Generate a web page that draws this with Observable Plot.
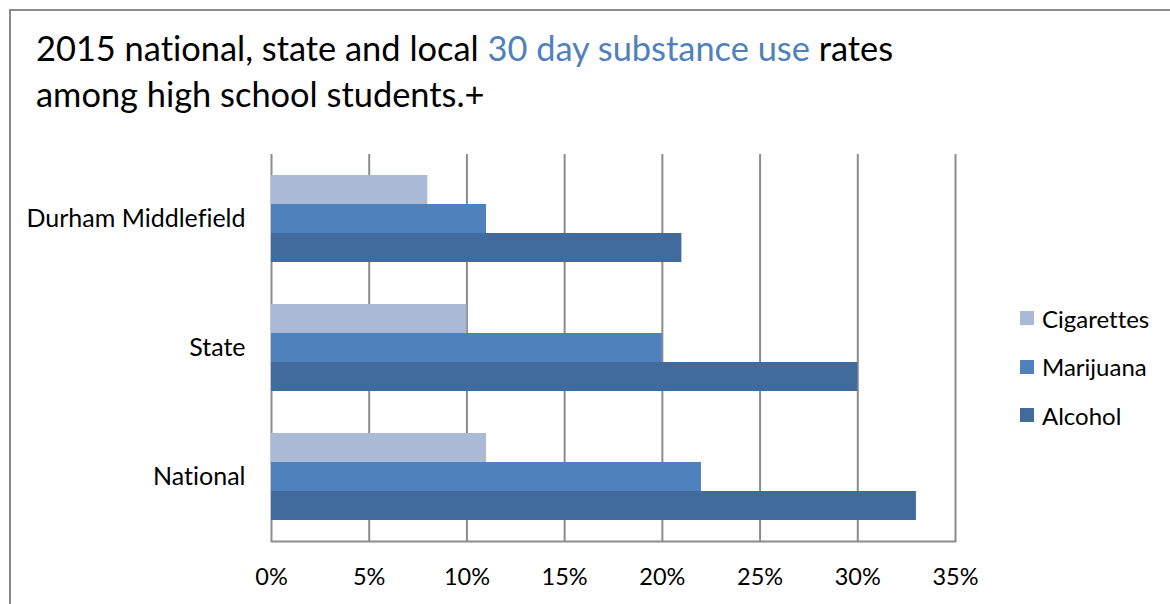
<!DOCTYPE html>
<html>
<head>
<meta charset="utf-8">
<script src="https://cdn.jsdelivr.net/npm/d3@7"></script>
<script src="https://cdn.jsdelivr.net/npm/@observablehq/plot@0.6"></script>
<style>
  html, body { margin: 0; padding: 0; background: #fff; }
  #wrap { position: relative; width: 1170px; height: 604px; overflow: hidden; font-family: Lato, "Liberation Sans", sans-serif; font-variant-ligatures: none; }
  #box { position: absolute; left: 9px; top: 9px; width: 1300px; height: 800px; border-top: 2px solid #8a8a8a; border-left: 2px solid #8a8a8a; }
  #title { position: absolute; left: 36px; top: 25px; font-size: 34.4px; line-height: 46px; color: #000; white-space: nowrap; }
  #title .hl { color: #4f81bd; }
  #chart { position: absolute; left: 0; top: 130px; }
  #chart svg text { font-variant-ligatures: none; }
  #legend { position: absolute; left: 1020px; top: 294px; font-size: 24px; color: #000; }
  #legend .item { display: flex; align-items: center; height: 48.5px; }
  #legend .sw { width: 14px; height: 14px; margin-right: 8px; }
</style>
</head>
<body>
<div id="wrap">
  <div id="box"></div>
  <div id="title">2015 national, state and local <span class="hl">30 day substance use</span> rates<br>among high school students.+</div>
  <div id="chart"></div>
  <div id="legend"></div>
</div>
<script>
// Locations (one group of bars each), top to bottom
const categories = ["Durham Middlefield", "State", "National"];
// Substances, in bar order within each group
const series = ["Cigarettes", "Marijuana", "Alcohol"];
const colors = ["#aab9d6", "#4f81bd", "#416a9d"];
// 30-day use rates per location
const cigarettes = [0.08, 0.10, 0.11];
const marijuana = [0.11, 0.20, 0.22];
const alcohol = [0.21, 0.30, 0.33];
// Percent ticks along the x axis
const xTicks = [0, 0.05, 0.10, 0.15, 0.20, 0.25, 0.30, 0.35];

const valuesBySeries = [cigarettes, marijuana, alcohol];
const rows = categories.flatMap((category, i) =>
  series.map((s, j) => ({category, series: s, value: valuesBySeries[j][i]}))
);

const gridColor = "#8c8c8c";

const chart = Plot.plot({
  width: 1170,
  height: 474,
  marginTop: 24,
  marginBottom: 63,
  marginLeft: 271,
  marginRight: 215,
  style: {fontFamily: "Lato, 'Liberation Sans', sans-serif", fontSize: "23.5px", color: "#000", background: "transparent"},
  x: {domain: [0, 0.35], axis: null},
  fy: {domain: categories, padding: 0, axis: null},
  y: {domain: series, paddingInner: 0, paddingOuter: 0.724, axis: null},
  color: {domain: series, range: colors},
  marks: [
    // vertical gridlines, repeated in every group so they run unbroken
    Plot.ruleX(xTicks, {stroke: gridColor, strokeWidth: 2, strokeOpacity: 1}),
    Plot.barX(rows, {x: "value", y: "series", fy: "category", fill: "series"}),
    // baseline under the last group only
    Plot.frame({anchor: "bottom", fy: [categories[categories.length - 1]], stroke: gridColor, strokeWidth: 2, strokeOpacity: 1}),
    Plot.axisX(xTicks, {anchor: "bottom", tickSize: 0, tickPadding: 27, tickFormat: d3.format(".0%"), fontSize: 23.5, label: null}),
    Plot.axisFy({anchor: "left", tickSize: 0, tickPadding: 26, fontSize: 25, label: null})
  ]
});
document.getElementById("chart").appendChild(chart);

const legend = document.getElementById("legend");
series.forEach((s, i) => {
  const item = document.createElement("div");
  item.className = "item";
  const sw = document.createElement("span");
  sw.className = "sw";
  sw.style.background = colors[i];
  const label = document.createElement("span");
  label.textContent = s;
  item.append(sw, label);
  legend.appendChild(item);
});
</script>
</body>
</html>
